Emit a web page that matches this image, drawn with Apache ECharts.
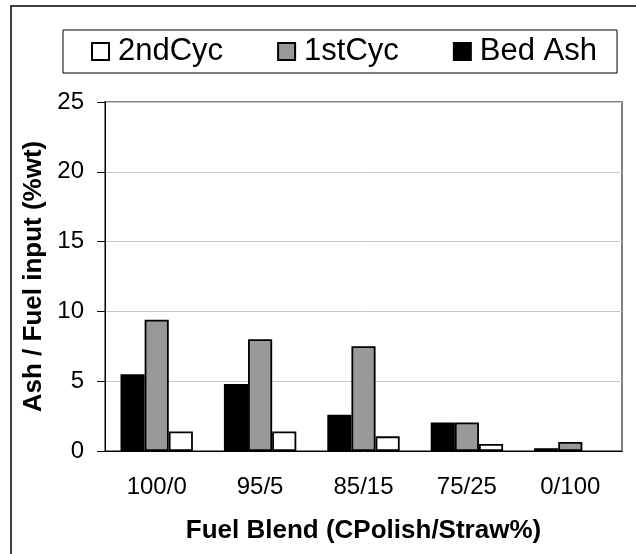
<!DOCTYPE html>
<html>
<head>
<meta charset="utf-8">
<script src="https://cdn.jsdelivr.net/npm/echarts@6/dist/echarts.min.js"></script>
<style>
  html, body { margin: 0; padding: 0; background: #fff; }
  #chart { width: 636px; height: 554px; }
</style>
</head>
<body>
<div id="chart"></div>
<script>
// values (no 2ndCyc bar drawn for 0/100)
const blends = ["100/0", "95/5", "85/15", "75/25", "0/100"];
const bedAsh = [5.5, 4.8, 2.6, 2.05, 0.2];
const firstCyc = [9.4, 8.0, 7.5, 2.05, 0.65];
const secondCyc = [1.4, 1.4, 1.05, 0.5, null];
const legendOrder = ["2ndCyc", "1stCyc", "Bed Ash"];

const font = "Liberation Sans, Arial, sans-serif";
const chart = echarts.init(document.getElementById("chart"));

const bar = (name, data, color) => ({
  name: name,
  type: "bar",
  data: data,
  barGap: "0%",
  barCategoryGap: "30%",
  itemStyle: { color: color, borderColor: "#000", borderWidth: 1.8 },
});

chart.setOption({
  animation: false,
  backgroundColor: "#fff",
  textStyle: { fontFamily: font },
  graphic: [
    {
      type: "rect",
      shape: { x: 11, y: 6, width: 700, height: 600 },
      style: { fill: "none", stroke: "#000", lineWidth: 1.5 },
    },
  ],
  legend: {
    data: legendOrder,
    left: 63,
    top: 30,
    icon: "rect",
    itemWidth: 17,
    itemHeight: 17,
    itemGap: 54,
    padding: [6, 20, 6, 28],
    borderColor: "#000",
    borderWidth: 1,
    textStyle: { fontSize: 31, color: "#000", fontFamily: font, padding: [0, 0, 0, 4] },
  },
  grid: {
    left: 105,
    right: 14,
    top: 102,
    bottom: 103,
    show: true,
    borderColor: "#808080",
    borderWidth: 2,
  },
  xAxis: {
    type: "category",
    data: blends,
    name: "Fuel Blend (CPolish/Straw%)",
    nameLocation: "middle",
    nameGap: 67,
    nameTextStyle: { fontSize: 26, fontWeight: "bold", color: "#000", fontFamily: font },
    axisLine: { lineStyle: { color: "#000", width: 1 } },
    axisTick: { length: 8, lineStyle: { color: "#000" } },
    axisLabel: { fontSize: 24, color: "#000", margin: 24, fontFamily: font },
  },
  yAxis: {
    type: "value",
    min: 0,
    max: 25,
    interval: 5,
    name: "Ash / Fuel input (%wt)",
    nameLocation: "middle",
    nameGap: 56,
    nameTextStyle: { fontSize: 26, fontWeight: "bold", color: "#000", fontFamily: font },
    axisLine: { show: true, lineStyle: { color: "#000", width: 1 } },
    axisTick: { show: true, length: 8, lineStyle: { color: "#000" } },
    axisLabel: { fontSize: 24, color: "#000", margin: 21, fontFamily: font },
    splitLine: { lineStyle: { color: "#c8c8c8", width: 1 } },
  },
  series: [
    bar("Bed Ash", bedAsh, "#000"),
    bar("1stCyc", firstCyc, "#999999"),
    bar("2ndCyc", secondCyc, "#fff"),
  ],
});
</script>
</body>
</html>
